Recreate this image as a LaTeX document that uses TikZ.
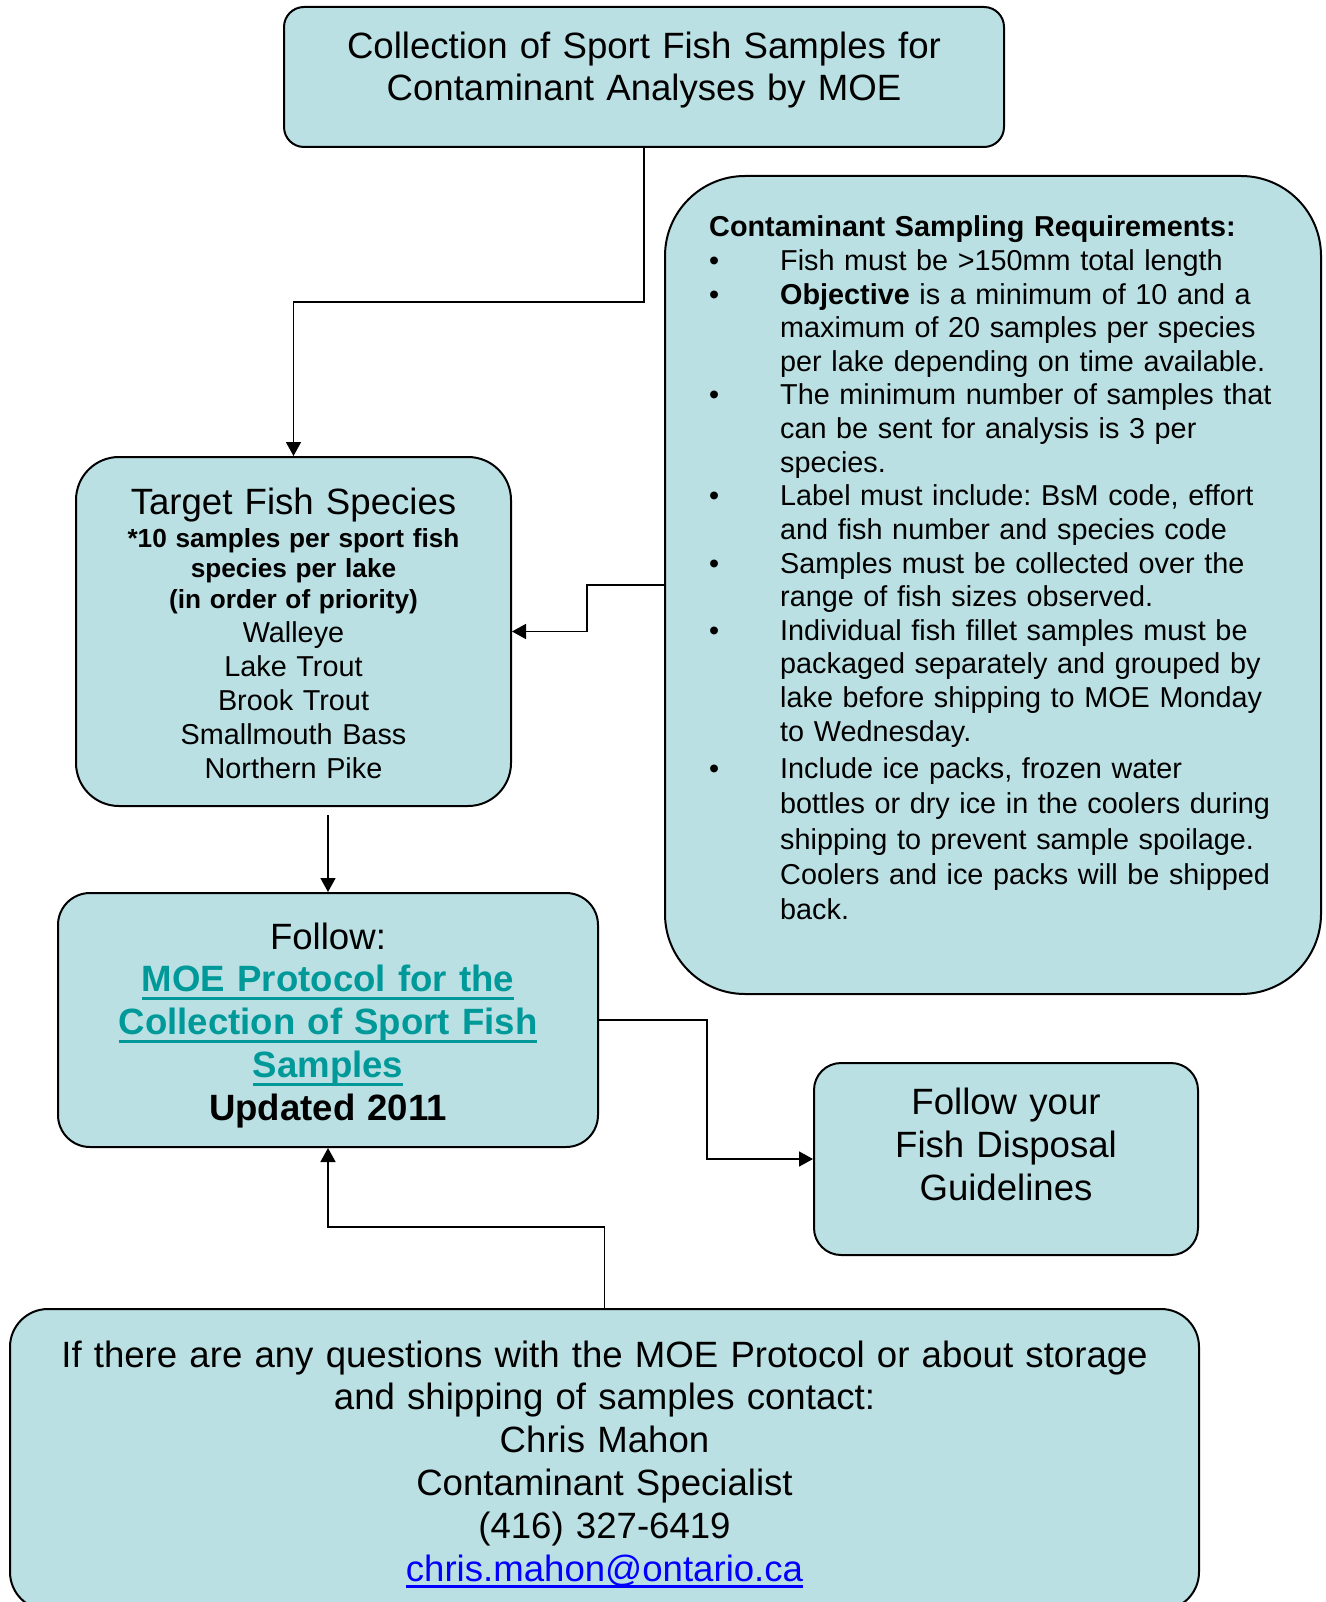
\documentclass[tikz,border=0pt]{standalone}
\usepackage{fontspec}
\setmainfont{Liberation Sans}
\usetikzlibrary{arrows.meta,calc}
\definecolor{boxfill}{HTML}{BBE0E3}
\definecolor{linkteal}{HTML}{009999}
\definecolor{mailblue}{HTML}{0000FF}
\newcommand\myul[4]{\leavevmode{\color{#3}\setbox0\hbox{#4}\rlap{\rule[#1]{\wd0}{#2}}\box0}}
\newcommand\bul{\leavevmode\makebox[71pt][l]{\textbullet}}
\newcommand\ind{\leavevmode\hspace*{71pt}}
\frenchspacing
\tikzset{
  box/.style={draw=black, line width=2pt, fill=boxfill, rounded corners=#1, inner sep=0pt},
  box/.default=20pt,
  txt/.style={anchor=base, align=center, inner sep=0pt},
  conn/.style={line width=1.6pt, draw=black},
  arr/.style={conn, -{Triangle[length=14pt,width=15pt]}},
  big/.style={font=\fontsize{36.6}{42.9}\selectfont\frenchspacing},
}
\begin{document}
\begin{tikzpicture}[x=1pt,y=-1pt]
\useasboundingbox (0,0) rectangle (1325,1602);
\clip (0,0) rectangle (1325,1602);

% boxes
\node[box=20pt, minimum width=720pt, minimum height=140pt] (top) at (644,77) {};
\node[box=43pt, minimum width=435pt, minimum height=349pt] (target) at (293.5,631.5) {};
\node[box=80pt, minimum width=656pt, minimum height=818pt] (req) at (993,585) {};
\node[box=32pt, minimum width=540pt, minimum height=254pt] (follow) at (328,1020) {};
\node[box=27pt, minimum width=384pt, minimum height=192pt] (disposal) at (1006,1159) {};
\node[box=38pt, minimum width=1189pt, minimum height=301pt] (contact) at (604.5,1459.5) {};

% texts
\node[txt, text width=720pt, font=\fontsize{36.6}{41.9}\selectfont] (toptext) at (644,58.8)
  {Collection of Sport Fish Samples for\\Contaminant Analyses by MOE};

\node[txt, big, text width=430pt] (tgttitle) at (293.5,514) {Target Fish Species};
\node[txt, text width=430pt, font=\fontsize{26.2}{30.8}\selectfont\bfseries] (tgtnote) at (293.5,547)
  {*10 samples per sport fish\\species per lake\\(in order of priority)};
\node[txt, text width=430pt, font=\fontsize{28.8}{34}\selectfont] (tgtlist) at (293.5,642)
  {Walleye\\Lake Trout\\Brook Trout\\Smallmouth Bass\\Northern Pike};

\node[anchor=base west, align=left, inner sep=0pt, text width=600pt,
      font=\fontsize{28.8}{33.6}\selectfont\frenchspacing] (reqtext) at (709,237)
  {\textbf{Contaminant Sampling Requirements:}\\
   \bul Fish must be >150mm total length\\
   \bul \textbf{Objective} is a minimum of 10 and a\\
   \ind maximum of 20 samples per species\\
   \ind per lake depending on time available.\\
   \bul The minimum number of samples that\\
   \ind can be sent for analysis is 3 per\\
   \ind species.\\
   \bul Label must include: BsM code, effort\\
   \ind and fish number and species code\\
   \bul Samples must be collected over the\\
   \ind range of fish sizes observed.\\
   \bul Individual fish fillet samples must be\\
   \ind packaged separately and grouped by\\
   \ind lake before shipping to MOE Monday\\
   \ind to Wednesday.\\[4pt]
   \bul Include ice packs, frozen water\\[1.7pt]
   \ind bottles or dry ice in the coolers during\\[1.7pt]
   \ind shipping to prevent sample spoilage.\\[1.7pt]
   \ind Coolers and ice packs will be shipped\\[1.7pt]
   \ind back.};

\node[txt, big, text width=540pt] (followtext) at (328,949)
  {Follow:\\
   \myul{-8pt}{3pt}{linkteal}{\bfseries MOE Protocol for the}\\
   \myul{-8pt}{3pt}{linkteal}{\bfseries Collection of Sport Fish}\\
   \myul{-8pt}{3pt}{linkteal}{\bfseries Samples}\\
   \textbf{Updated 2011}};

\node[txt, font=\fontsize{36.6}{43.4}\selectfont, text width=384pt] (disptext) at (1006,1114)
  {Follow your\\Fish Disposal\\Guidelines};

\node[txt, big, text width=1180pt] (contacttext) at (604.5,1367)
  {If there are any questions with the MOE Protocol or about storage\\
   and shipping of samples contact:\\
   Chris Mahon\\
   Contaminant Specialist\\
   (416) 327-6419\\
   \myul{-6pt}{2.8pt}{mailblue}{chris.mahon@ontario.ca}};

% connectors
\draw[arr] (top.south) -- ++(0,154) -| (target.north);
\draw[arr] (req.west) -- ++(-77,0) |- (target.east);
\draw[arr] ([yshift=-8pt]target.south -| follow.north) -- (follow.north);
\draw[arr] (follow.east) -- ++(108,0) |- (disposal.west);
\draw[arr] (contact.north) -- ++(0,-81) -| (follow.south);
\end{tikzpicture}
\end{document}
